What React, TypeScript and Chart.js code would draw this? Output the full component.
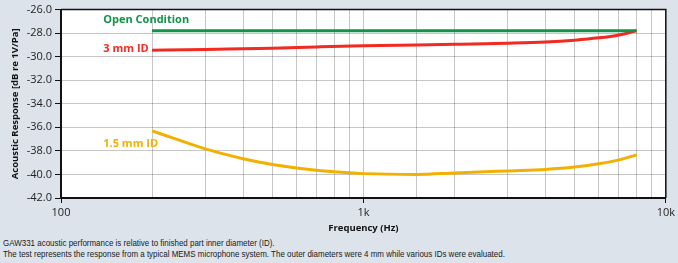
import React, { useEffect, useRef } from "react";
import { Chart, registerables } from "chart.js";

Chart.register(...registerables);

// ---- data ----
const openFreq = [200, 8000];
const openDb = [-27.8, -27.8];

const id3Freq = [200, 300, 500, 700, 1000, 1500, 2000, 3000, 4000, 5000, 6000, 7000, 8000];
const id3Db = [-29.46, -29.38, -29.28, -29.17, -29.07, -29.0, -28.95, -28.86, -28.76, -28.6, -28.4, -28.15, -27.8];

const id15Freq = [200, 250, 300, 400, 500, 600, 800, 1000, 1500, 2000, 3000, 4000, 5000, 6000, 7000, 8000];
const id15Db = [-36.3, -37.15, -37.83, -38.66, -39.15, -39.45, -39.78, -39.93, -40.0, -39.88, -39.7, -39.57, -39.37, -39.1, -38.76, -38.34];

const seriesNames = ["Open Condition", "3 mm ID", "1.5 mm ID"];
const seriesColors = ["#12934a", "#f22a22", "#f2b000"];
const labelFreq = [138, 138, 138];
const labelDb = [-26.84, -29.3, -37.4];

const yTicksMin = -42;
const yTicksMax = -26;
const yStep = 2;
const xMin = 100;
const xMax = 10000;
const xTickLabels: Record<number, string> = { 100: "100", 1000: "1k", 10000: "10k" };

const yTitle = "Acoustic Response [dB re 1V/Pa]";
const xTitle = "Frequency (Hz)";
const caption1 = "GAW331 acoustic performance is relative to finished part inner diameter (ID).";
const caption2 =
  "The test represents the response from a typical MEMS microphone system. The outer diameters were 4 mm while various IDs were evaluated.";

const FONT = "'Open Sans', sans-serif";
const W = 678;
const CH = 236;

function pts(xs: number[], ys: number[]) {
  return xs.map((x, i) => ({ x, y: ys[i] }));
}

const decorPlugin = {
  id: "decor",
  beforeDraw(chart: any) {
    const { ctx, chartArea: a } = chart;
    ctx.save();
    ctx.fillStyle = "#ffffff";
    ctx.fillRect(a.left, a.top, a.right - a.left, a.bottom - a.top);
    ctx.restore();
  },
  afterDraw(chart: any) {
    const { ctx, chartArea: a, scales } = chart;
    ctx.save();
    // frame top/right
    ctx.strokeStyle = "#111";
    ctx.lineWidth = 1.5;
    ctx.beginPath();
    ctx.moveTo(a.left, a.top);
    ctx.lineTo(a.right, a.top);
    ctx.lineTo(a.right, a.bottom);
    ctx.stroke();
    // series labels
    ctx.font = `bold 11px ${FONT}`;
    ctx.textAlign = "left";
    ctx.textBaseline = "middle";
    seriesNames.forEach((n, i) => {
      ctx.fillStyle = seriesColors[i];
      ctx.fillText(n, scales.x.getPixelForValue(labelFreq[i]), scales.y.getPixelForValue(labelDb[i]));
    });
    // axis titles
    ctx.fillStyle = "#111";
    ctx.font = `bold 9.5px ${FONT}`;
    ctx.textAlign = "center";
    ctx.fillText(xTitle, (a.left + a.right) / 2, 228);
    ctx.translate(15, (a.top + a.bottom) / 2);
    ctx.rotate(-Math.PI / 2);
    ctx.fillText(yTitle, 0, 0);
    ctx.restore();
  },
};

export default function App() {
  const ref = useRef<HTMLCanvasElement | null>(null);
  useEffect(() => {
    document.body.style.margin = "0";
    const c = new Chart(ref.current!, {
      type: "line",
      data: {
        datasets: [
          { label: seriesNames[0], data: pts(openFreq, openDb) },
          { label: seriesNames[1], data: pts(id3Freq, id3Db) },
          { label: seriesNames[2], data: pts(id15Freq, id15Db) },
        ].map((d, i) => ({
          ...d,
          borderColor: seriesColors[i],
          backgroundColor: seriesColors[i],
          borderWidth: 3,
          pointRadius: 0,
          cubicInterpolationMode: "monotone" as const,
          fill: false,
        })),
      },
      options: {
        animation: false,
        responsive: false,
        layout: { padding: { left: 0, right: 12, top: 7, bottom: 0 } },
        plugins: { legend: { display: false }, tooltip: { enabled: false } },
        scales: {
          x: {
            type: "logarithmic",
            min: xMin,
            max: xMax,
            afterFit: (s: any) => {
              s.height = 38;
            },
            border: { color: "#111", width: 2 },
            grid: {
              color: "rgba(0,0,0,0.22)",
              lineWidth: 1,
              tickLength: 5,
              tickColor: (ctx: any) => (xTickLabels[ctx.tick?.value] ? "#111" : "rgba(0,0,0,0)"),
            },
            ticks: {
              autoSkip: false,
              maxRotation: 0,
              padding: 3,
              color: "#222",
              font: { family: FONT, size: 11 },
              callback: (v: any) => xTickLabels[Number(v)] ?? "",
            },
          },
          y: {
            min: yTicksMin,
            max: yTicksMax,
            afterFit: (s: any) => {
              s.width = 61;
            },
            border: { color: "#111", width: 2 },
            grid: { color: "rgba(0,0,0,0.22)", lineWidth: 1, tickLength: 6, tickColor: "#111" },
            ticks: {
              stepSize: yStep,
              padding: 3,
              color: "#222",
              font: { family: FONT, size: 11 },
              callback: (v: any) => Number(v).toFixed(1),
            },
          },
        },
      },
      plugins: [decorPlugin],
    });
    return () => c.destroy();
  }, []);
  return (
    <div style={{ position: "relative", width: W, height: 263, background: "#dce3eb", overflow: "hidden" }}>
      <canvas ref={ref} width={W} height={CH} style={{ display: "block" }} />
      <div
        style={{
          position: "absolute",
          left: 3,
          top: 238,
          fontFamily: "'Liberation Sans Narrow', sans-serif",
          fontSize: 9,
          lineHeight: "11px",
          color: "#1a1a1a",
          whiteSpace: "nowrap",
          transform: "scaleX(0.885)",
          transformOrigin: "0 0",
        }}
      >
        <div>{caption1}</div>
        <div>{caption2}</div>
      </div>
    </div>
  );
}
